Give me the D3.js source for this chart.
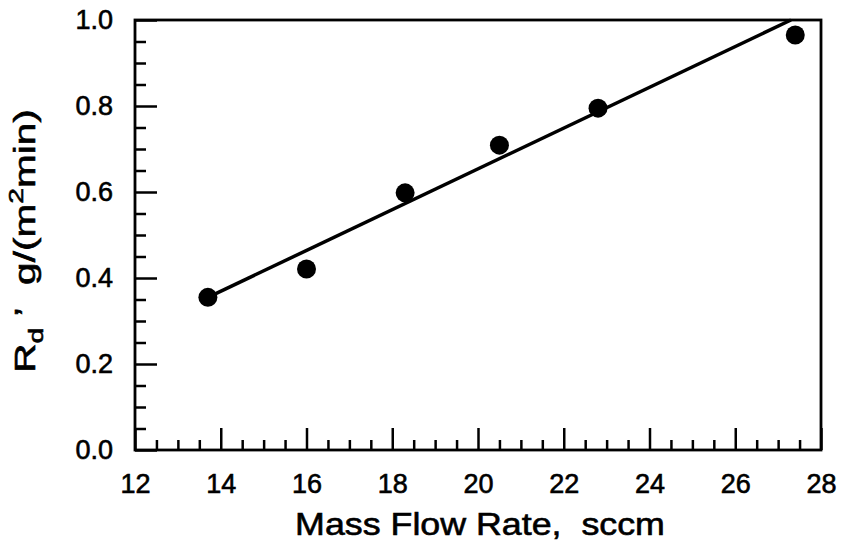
<!DOCTYPE html>
<html>
<head>
<meta charset="utf-8">
<script src="https://cdn.jsdelivr.net/npm/d3@7"></script>
<style>
  html, body { margin: 0; padding: 0; background: #fff; }
  svg { display: block; }
  text { font-family: "Liberation Sans", Arial, Helvetica, sans-serif; fill: #000; stroke: #000; stroke-width: 0.6px; }
</style>
</head>
<body>
<svg id="chart" width="841" height="544"></svg>
<script>
// ---- data ----
const flowRate = [13.7, 16.0, 18.3, 20.5, 22.8, 27.4];          // sccm
const depositionRate = [0.355, 0.421, 0.598, 0.709, 0.795, 0.965]; // g/(m^2 min)
const fitFlow = [13.7, 27.3];
const fitRate = [0.355, 1.0];
const xMajorTicks = [12, 14, 16, 18, 20, 22, 24, 26, 28];
const xMinorTicks = d3.range(12, 28.01, 0.5).filter(v => v % 2 !== 0);
const yMajorTicks = [0.0, 0.2, 0.4, 0.6, 0.8, 1.0];
const yMinorTicks = d3.range(0, 1.001, 0.05).map(v => +v.toFixed(2)).filter(v => Math.round(v * 100) % 20 !== 0);

// ---- layout ----
const margin = { left: 135, top: 20, right: 20, bottom: 94 };
const W = 841, H = 544;
const iw = W - margin.left - margin.right; // 686
const ih = H - margin.top - margin.bottom; // 430

const svg = d3.select("#chart");
const g = svg.append("g").attr("transform", `translate(${margin.left},${margin.top})`);

const x = d3.scaleLinear().domain([12, 28]).range([0, iw]);
const y = d3.scaleLinear().domain([0, 1]).range([ih, 0]);

function styleAxis(sel) {
  sel.select(".domain").remove();
  sel.selectAll(".tick line").attr("stroke", "#000").attr("stroke-width", 2.5);
  sel.selectAll(".tick text").style("font-size", "27px").attr("fill", "#000");
}

// x axis major
g.append("g").attr("transform", `translate(0,${ih})`)
  .call(d3.axisBottom(x).tickValues(xMajorTicks).tickSize(-22).tickPadding(24).tickFormat(d3.format("d")))
  .call(styleAxis);
// x axis minor
g.append("g").attr("transform", `translate(0,${ih})`)
  .call(d3.axisBottom(x).tickValues(xMinorTicks).tickSize(-10).tickFormat(""))
  .call(styleAxis);
// y axis major
g.append("g")
  .call(d3.axisLeft(y).tickValues(yMajorTicks).tickSize(-22).tickPadding(22).tickFormat(d3.format(".1f")))
  .call(styleAxis);
// y axis minor
g.append("g")
  .call(d3.axisLeft(y).tickValues(yMinorTicks).tickSize(-11).tickFormat(""))
  .call(styleAxis);

// frame
g.append("rect").attr("x", 0).attr("y", 0).attr("width", iw).attr("height", ih)
  .attr("fill", "none").attr("stroke", "#000").attr("stroke-width", 2.8);

// fit line
const fitData = fitFlow.map((f, i) => [f, fitRate[i]]);
g.append("path").datum(fitData)
  .attr("fill", "none").attr("stroke", "#000").attr("stroke-width", 3.5)
  .attr("d", d3.line().x(d => x(d[0])).y(d => y(d[1])));

// points
g.selectAll("circle.pt").data(flowRate.map((f, i) => [f, depositionRate[i]]))
  .join("circle").attr("class", "pt")
  .attr("cx", d => x(d[0])).attr("cy", d => y(d[1])).attr("r", 9.5).attr("fill", "#000");

// x title
const xt = svg.append("g").attr("transform", `translate(480,535)`);
const xtText = xt.append("text").attr("text-anchor", "middle").style("font-size", "32px")
  .style("white-space", "pre")
  .text("Mass Flow Rate,  sccm");
{
  const w = xtText.node().getBBox().width;
  xtText.attr("transform", `scale(${370 / w},1)`);
}

// y title
const yt = svg.append("g").attr("transform", `translate(35,241) rotate(-90)`);
const ytText = yt.append("text").attr("text-anchor", "middle").style("font-size", "30px")
  .style("white-space", "pre");
ytText.append("tspan").text("R");
ytText.append("tspan").style("font-size", "21px").attr("dy", 8).text("d");
ytText.append("tspan").attr("dy", -8).text(" \u2019");
ytText.append("tspan").text("  g/(m");
ytText.append("tspan").style("font-size", "21px").attr("dy", -12).text("2");
ytText.append("tspan").attr("dy", 12).text("min)");
{
  const w = ytText.node().getBBox().width;
  ytText.attr("transform", `scale(${262 / w},1)`);
}
</script>
</body>
</html>
